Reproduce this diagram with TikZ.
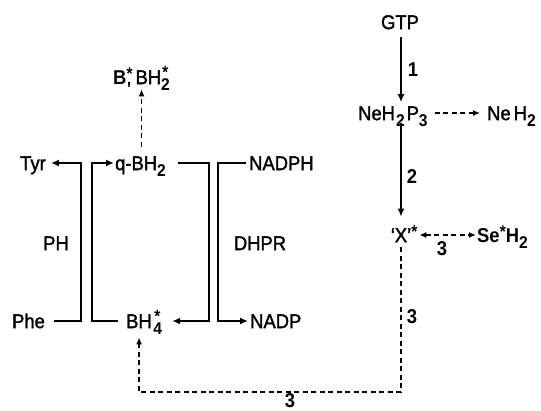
\documentclass[tikz,border=0pt]{standalone}
\usepackage{fontspec}
\setmainfont{Liberation Sans}
\newfontfamily\lreg{Liberation Sans}[FakeStretch=0.92, FakeBold=1.6]
\newfontfamily\lbld{Liberation Sans Bold}[FakeStretch=0.92]
\usetikzlibrary{arrows.meta}
\newcommand{\sbs}[1]{\raisebox{-6pt}{\fontsize{17}{17}\lbld #1}}
\newcommand{\sps}[1]{\raisebox{5pt}{\fontsize{17}{17}\lreg #1}}
\newcommand{\sbsp}[2]{\rlap{\kern1pt\raisebox{6.5pt}{\fontsize{17}{17}\lreg #2}}\sbs{#1}}
\newcommand{\bd}[1]{{\lbld #1}}
\tikzset{
  lbl/.style={font=\fontsize{20}{23}\lreg, inner sep=0pt, text height=14.3pt, text depth=0pt},
  num/.style={font=\fontsize{20}{23}\lbld, inner sep=0pt},
  sol/.style={line width=2.4pt, -{Latex[length=8pt,width=7pt]}},
  dsh/.style={line width=1.7pt, dash pattern=on 5pt off 3.5pt, -{Latex[length=7pt,width=6pt]}},
  dshb/.style={line width=1.7pt, dash pattern=on 5pt off 3.5pt, {Latex[length=7pt,width=6pt]}-{Latex[length=7pt,width=6pt]}}
}
\begin{document}
\begin{tikzpicture}[x=1pt,y=-1pt]
\useasboundingbox (0,0) rectangle (541,411);
% coordinates for bracket verticals and bottom dashed line
\coordinate (b1) at (81,0);
\coordinate (b2) at (92,0);
\coordinate (b3) at (209,0);
\coordinate (b4) at (218,0);
\coordinate (bot) at (0,392);
% nodes
\node[lbl] (tyr) at (33,163) {Tyr};
\node[lbl] (phe) at (28.5,321) {Phe};
\node[lbl, anchor=west] (qbh) at (115,163) {q-BH\sbs{2}};
\node[lbl, anchor=west] (bh4) at (126,321) {BH\kern1.5pt\sbsp{4}{*}};
\node[lbl, anchor=west] (nadph) at (249,163) {NADPH};
\node[lbl, anchor=west] (nadp) at (250,321) {NADP};
\node[lbl] (ph) at (56,243) {PH};
\node[lbl] (dhpr) at (260,243) {DHPR};
\node[lbl, anchor=west] (bb) at (113,77) {\bd{B}\rlap{\sps{*}},\kern4pt BH\sbsp{2}{*}};
\node[lbl] (gtp) at (400,22) {GTP};
\node[lbl, anchor=west] (ne) at (358,113) {NeH\kern1pt\sbs{2}\kern2pt P\sbs{3}};
\node[lbl, anchor=west] (neh) at (487,113) {Ne\kern3pt H\sbs{2}};
\node[lbl] (xx) at (401,235) {\llap{‘}X\rlap{’\sps{*}}};
\node[lbl, anchor=west] (se) at (477,235) {\bd{Se}\sps{*}\bd{H}\sbs{2}};
% numbers
\node[num] (n1) at (413,70) {1};
\node[num] (n2) at (412,177) {2};
\node[num] (n3a) at (442,249) {3};
\node[num] (n3b) at (412,317) {3};
\node[num] (n3c) at (290,401) {3};
% brackets
\draw[sol, shorten <=9pt, shorten >=5pt] (phe.east) -- (phe.east -| b1) -- (tyr.east -| b1) -- (tyr.east);
\draw[sol, shorten <=8pt, shorten >=1pt] (bh4.west) -- (bh4.west -| b2) -- (qbh.west -| b2) -- (qbh.west);
\draw[sol, shorten <=12pt, shorten >=10pt] (qbh.east) -- (qbh.east -| b3) -- (bh4.east -| b3) -- (bh4.east);
\draw[sol, shorten <=3pt, shorten >=2pt] (nadph.west) -- (nadph.west -| b4) -- (nadp.west -| b4) -- (nadp.west);
% pathway
\draw[sol, shorten <=8pt, shorten >=3.5pt] (gtp.south -| xx.north) -- (ne.north -| xx.north);
\draw[sol, shorten <=3pt, shorten >=11pt] (ne.south -| xx.north) -- (xx.north);
\draw[dsh, shorten <=7pt, shorten >=7pt] (ne.east) -- (neh.west);
\draw[dshb, shorten <=12pt, shorten >=1pt] (xx.east) -- (se.west);
\draw[dsh, shorten <=9pt, shorten >=5pt] (qbh.north -| bb.south) -- (bb.south);
\draw[dsh, shorten <=5pt, shorten >=9pt] (xx.south) -- (xx.south |- bot) -| ([xshift=-5pt]bh4.south);
\end{tikzpicture}
\end{document}
